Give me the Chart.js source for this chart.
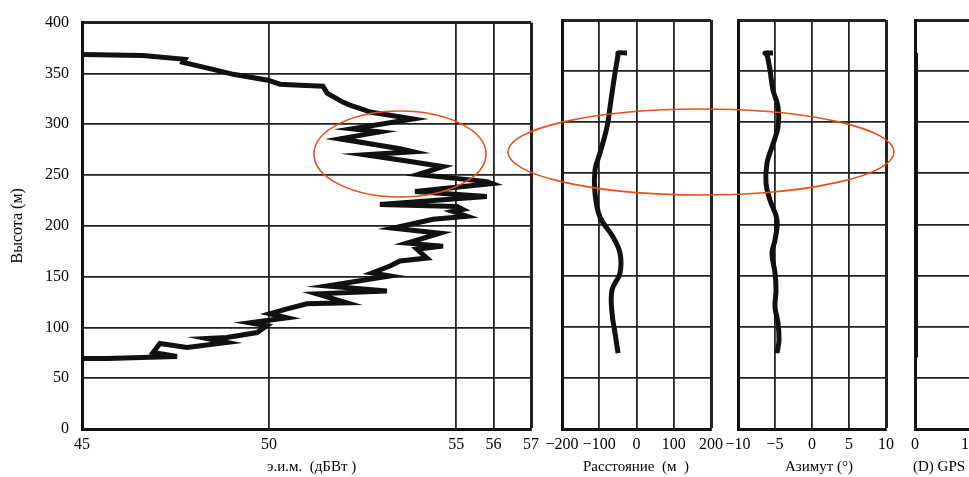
<!DOCTYPE html>
<html>
<head>
<meta charset="utf-8">
<script src="https://cdn.jsdelivr.net/npm/chart.js@4/dist/chart.umd.min.js"></script>
<style>
html, body { margin: 0; padding: 0; background: #fff; overflow: hidden; }
#wrap { position: relative; width: 969px; height: 477px; overflow: hidden; }
#wrap canvas { position: absolute; left: 0; top: 0; }
.xt { position: absolute; top: 457px; font-family: "Liberation Serif", serif; font-size: 15px;
      line-height: 18px; white-space: pre; color: #000; }
.mid { transform: translateX(-50%); }
svg { position: absolute; left: 0; top: 0; pointer-events: none; }
</style>
</head>
<body>
<div id="wrap">
  <canvas id="eim" width="969" height="477"></canvas>
  <canvas id="dist" width="969" height="477"></canvas>
  <canvas id="azi" width="969" height="477"></canvas>
  <canvas id="gps" width="1000" height="477"></canvas>
  <div class="xt" style="left:267px">э.и.м.  (дБВт )</div>
  <div class="xt mid" style="left:636px">Расстояние  (м  )</div>
  <div class="xt mid" style="left:819px">Азимут (°)</div>
  <div class="xt" style="left:913px">(D) GPS</div>
  <svg width="969" height="477">
    <ellipse cx="400" cy="154" rx="86" ry="43" fill="none" stroke="#e8501a" stroke-width="1.6"/>
    <ellipse cx="701" cy="152" rx="193" ry="43" fill="none" stroke="#e8501a" stroke-width="1.6"/>
  </svg>
</div>
<script>
// height axis (m)
var heightMin = 0;
var heightMax = 400;
var heightStep = 50;

// e.i.m. (dBW) against height
var eimTicks = [45, 50, 55, 56, 57];
var eimHeight = [368.7, 367.7, 363.8, 360.9, 354.0, 349.1, 343.3, 339.4, 338.4, 337.4,
    330.6, 321.8, 318.8, 313.9, 312.0, 305.1, 295.4, 292.4, 285.6, 275.8,
    272.9, 269.9, 263.1, 258.2, 250.4, 243.5, 241.6, 233.7, 228.9, 221.0,
    219.1, 216.1, 214.2, 209.3, 206.4, 197.6, 192.7, 182.9, 180.0, 177.0,
    168.2, 165.3, 160.4, 153.5, 150.6, 140.8, 135.9, 133.0, 124.2, 123.2,
    118.3, 113.4, 109.5, 104.6, 101.7, 94.9, 90.0, 89.0, 85.1, 80.2,
    84.1, 75.3, 71.4, 69.4, 69.4];
var eimValue = [45.0, 46.63, 47.75, 47.70, 48.50, 49.04, 49.97, 50.29, 50.83, 51.44,
    51.55, 51.97, 52.16, 52.56, 52.70, 53.85, 52.22, 52.96, 51.89, 53.50,
    53.85, 52.56, 53.82, 54.65, 53.98, 55.82, 55.96, 53.90, 55.82, 52.96,
    55.02, 55.18, 54.91, 55.29, 54.38, 53.31, 54.57, 53.69, 54.65, 53.95,
    54.22, 53.50, 53.23, 52.75, 53.23, 51.55, 53.15, 51.28, 52.08, 51.01,
    50.48, 50.02, 50.48, 49.49, 49.94, 49.68, 48.87, 48.34, 48.87, 47.81,
    47.08, 46.90, 47.54, 45.67, 45.0];

// distance (m)
var distTicks = [-200, -100, 0, 100, 200];
var distHeight = [367.7, 367.7, 365.8, 348.2, 314.9, 295.4, 269.9, 253.3, 230.8,
    207.3, 187.8, 172.1, 152.6, 135.9, 113.4, 93.9, 74.3];
var distValue = [-25.5, -49.6, -49.6, -57.7, -71.1, -79.2, -98.0, -111.4, -111.4,
    -98.0, -63.1, -44.3, -44.3, -65.7, -65.7, -57.7, -49.6];

// azimuth (deg)
var aziTicks = [-10, -5, 0, 5, 10];
var aziHeight = [367.7, 367.7, 365.8, 351.1, 331.5, 314.9, 295.4, 275.8, 260.1, 240.6,
    224.0, 204.4, 184.8, 172.1, 152.6, 135.9, 119.3, 103.7, 87.0, 74.3];
var aziValue = [-5.27, -6.35, -6.08, -5.68, -5.27, -4.59, -4.59, -5.41, -6.08, -6.22,
    -5.68, -4.73, -5.0, -5.41, -5.0, -4.86, -5.0, -4.59, -4.46, -4.73];

// (D) GPS
var gpsTicks = [0, 1];
var gpsHeight = [368, 70];
var gpsValue = [0.03, 0.03];

var serif = "'Liberation Serif', 'Times New Roman', serif";

function toPoints(xs, ys) {
    var pts = [];
    for (var i = 0; i < xs.length; i++) {
        pts.push({ x: xs[i], y: ys[i] });
    }
    return pts;
}

function fmt(v) {
    return v < 0 ? "\u2212" + Math.abs(v) : String(v);
}

function makePanel(id, o) {
    var heightTickList = [];
    for (var h = heightMin; h <= heightMax; h += heightStep) heightTickList.push(h);

    return new Chart(document.getElementById(id), {
        type: "scatter",
        data: {
            datasets: [{
                data: toPoints(o.xs, o.ys),
                showLine: true,
                borderColor: "#111",
                borderWidth: o.lw,
                pointRadius: 0,
                tension: o.tension,
                fill: false
            }]
        },
        options: {
            responsive: false,
            animation: false,
            events: [],
            layout: { padding: { left: o.left, right: o.right, top: 20, bottom: 0 } },
            plugins: { legend: { display: false }, tooltip: { enabled: false } },
            scales: {
                x: {
                    type: "linear",
                    min: o.min,
                    max: o.max,
                    afterBuildTicks: function(s) {
                        s.ticks = o.ticks.map(function(v) { return { value: v }; });
                    },
                    afterFit: function(s) { s.height = 48; },
                    grid: {
                        display: o.xgrid,
                        drawTicks: false,
                        color: "#222",
                        lineWidth: function(c) {
                            return (c.tick && c.tick.value === o.max) ? 3 : 1.8;
                        }
                    },
                    border: { color: "#111", width: 3 },
                    ticks: {
                        autoSkip: false,
                        maxRotation: 0,
                        padding: 6,
                        color: "#000",
                        font: { family: serif, size: 16 },
                        callback: fmt
                    }
                },
                y: {
                    type: "linear",
                    min: heightMin,
                    max: heightMax,
                    afterBuildTicks: function(s) {
                        s.ticks = heightTickList.map(function(v) { return { value: v }; });
                    },
                    afterFit: function(s) { s.width = o.yw; },
                    grid: {
                        drawTicks: false,
                        color: "#222",
                        lineWidth: function(c) {
                            return (c.tick && c.tick.value === heightMax) ? 3 : 1.8;
                        }
                    },
                    border: { color: "#111", width: 3 },
                    ticks: {
                        display: o.ylabels,
                        padding: 13,
                        color: "#000",
                        font: { family: serif, size: 16 }
                    },
                    title: {
                        display: o.ylabels,
                        text: "Высота (м)",
                        color: "#000",
                        font: { family: serif, size: 16 },
                        padding: { top: 8, bottom: 0 }
                    }
                }
            }
        }
    });
}

makePanel("eim", { xs: eimValue, ys: eimHeight, min: 45, max: 57, ticks: eimTicks,
    left: 0, right: 438, yw: 82, ylabels: true, xgrid: true, lw: 5, tension: 0 });
makePanel("dist", { xs: distValue, ys: distHeight, min: -200, max: 200, ticks: distTicks,
    left: 562, right: 258, yw: 0, ylabels: false, xgrid: true, lw: 5, tension: 0.4 });
makePanel("azi", { xs: aziValue, ys: aziHeight, min: -10, max: 10, ticks: aziTicks,
    left: 738, right: 83, yw: 0, ylabels: false, xgrid: true, lw: 5, tension: 0.4 });
makePanel("gps", { xs: gpsValue, ys: gpsHeight, min: 0, max: 1.1, ticks: gpsTicks,
    left: 915, right: 30, yw: 0, ylabels: false, xgrid: false, lw: 3, tension: 0 });
</script>
</body>
</html>
